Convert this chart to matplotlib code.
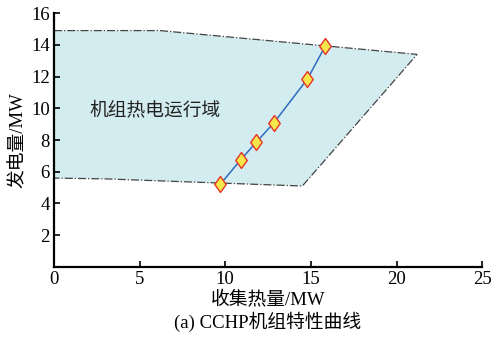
import matplotlib.pyplot as plt
from matplotlib.patches import Polygon

plt.rcParams['font.family'] = ['Liberation Serif', 'Noto Sans CJK SC']

# operating region boundary (heat, power)
region_heat = [0, 6.2, 21.2, 14.5, 3.0, 0]
region_power = [14.9, 14.9, 13.4, 5.1, 5.55, 5.6]

# characteristic curve points
curve_heat = [9.7, 10.9, 11.8, 12.85, 14.8, 15.85]
curve_power = [5.2, 6.75, 7.85, 9.1, 11.85, 13.95]

xticks = [0, 5, 10, 15, 20, 25]
yticks = [2, 4, 6, 8, 10, 12, 14, 16]

fig = plt.figure(figsize=(4.91, 3.37), dpi=100)
ax = fig.add_axes([0.11, 0.208, 0.872, 0.753])

poly = Polygon(list(zip(region_heat, region_power)), closed=True,
               facecolor='#d3ecef', edgecolor='#444444', linestyle='-.', lw=0.9)
ax.add_patch(poly)

diamond = [(0, 1), (0.72, 0), (0, -1), (-0.72, 0), (0, 1)]
ax.plot(curve_heat, curve_power, color='#2e6cc0', lw=1.1, marker=diamond, ms=11.5,
        markerfacecolor='#f3e74a', markeredgecolor='#e8332a', markeredgewidth=1.0)

ax.text(5.9, 9.9, '机组热电运行域', fontsize=13.5, ha='center', va='center', color='#222222')

ax.set_xlim(0, 25)
ax.set_ylim(0, 16)
ax.set_xticks(xticks)
ax.set_yticks(yticks)
ax.tick_params(direction='in', labelsize=13.5, width=1.2, length=4, pad=3)
for s in ['top', 'right']:
    ax.spines[s].set_visible(False)
for s in ['left', 'bottom']:
    ax.spines[s].set_linewidth(1.6)

ax.set_xlabel('收集热量/MW', fontsize=13.5, labelpad=2)
ax.set_ylabel('发电量/MW', fontsize=13.5, labelpad=3)
fig.text(0.545, 0.045, '(a) CCHP机组特性曲线', fontsize=13.5, ha='center', va='center')

fig.savefig('out.png', dpi=100)
